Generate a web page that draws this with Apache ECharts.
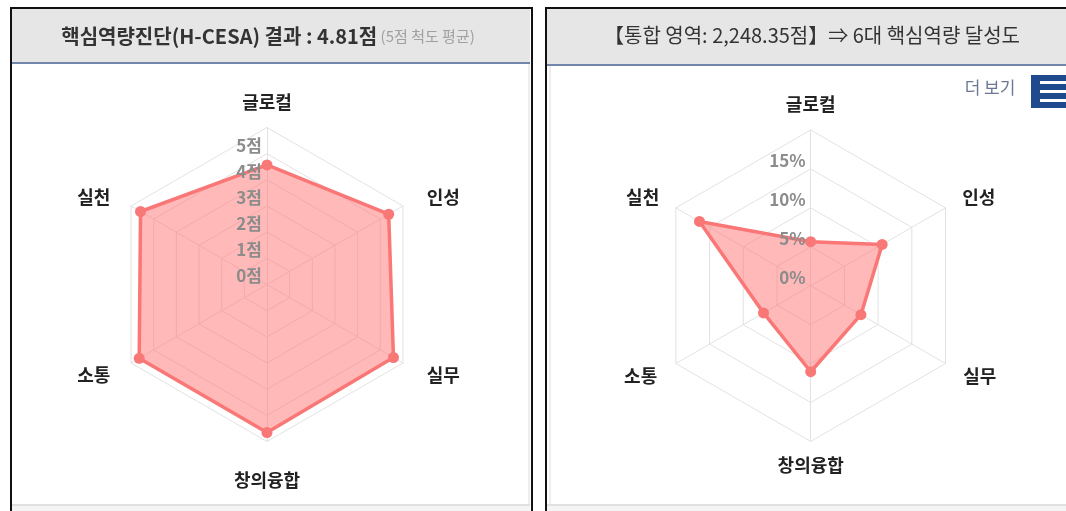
<!DOCTYPE html>
<html>
<head>
<meta charset="utf-8">
<script src="https://cdn.jsdelivr.net/npm/echarts@6/dist/echarts.min.js"></script>
<style>
  html, body { margin: 0; padding: 0; background: #ffffff; }
  #chart { width: 1066px; height: 511px; }
</style>
</head>
<body>
<div id="chart"></div>
<script>
// ---- data (indicator order follows ECharts radar: counter-clockwise from top) ----
const categories = ['글로컬', '실천', '소통', '창의융합', '실무', '인성'];
const competencyScores = [4.57, 5.58, 5.64, 5.66, 5.58, 5.37];      // left radar, 점
const achievementRates = [5.65, 16.5, 7.0, 11.05, 7.45, 10.6];      // right radar, %
const scoreTickLabels = ['0점', '1점', '2점', '3점', '4점', '5점', ''];
const rateTickLabels = ['0%', '5%', '10%', '15%', ''];
const scoreMax = 6;
const rateMax = 20;
const leftTitleMain = '핵심역량진단(H-CESA) 결과 : 4.81점';
const leftTitleSub = '(5점 척도 평균)';
const rightTitle = '【통합 영역: 2,248.35점】⇒ 6대 핵심역량 달성도';
const moreLabel = '더 보기';

const FONT = '"Noto Sans CJK KR", "Noto Sans", sans-serif';
const LINE_COLOR = '#f87878';
const FILL_COLOR = 'rgba(255,116,116,0.5)';
const GRID_COLOR = '#e2e2e2';

const chart = echarts.init(document.getElementById('chart'));

const nameStyleBase = { fontSize: 18, fontWeight: 'bold', color: '#222', fontFamily: FONT };
function nameRich(pads) {
  const r = {};
  Object.keys(pads).forEach(function (k) {
    r[k] = Object.assign({}, nameStyleBase, { padding: pads[k] });
  });
  return r;
}
const nameKeys = { '글로컬': 't', '실천': 'ul', '소통': 'll', '창의융합': 'b', '실무': 'lr', '인성': 'ur' };

function makeIndicators(max, tickLabels, step, withLabel) {
  return categories.map(function (name, i) {
    const ind = { name: name, min: 0, max: max };
    if (withLabel && i === 0) {
      ind.axisLabel = {
        show: true,
        margin: 5,
        verticalAlign: 'bottom',
        color: '#8c8c8c',
        fontSize: 17,
        fontWeight: 'bold',
        fontFamily: FONT,
        formatter: function (v) {
          const idx = Math.round(v / step);
          return tickLabels[idx] !== undefined ? tickLabels[idx] : '';
        }
      };
    }
    return ind;
  });
}

function gridRadar(center, radius, max, split, pads) {
  return {
    center: center,
    radius: radius,
    startAngle: 90,
    splitNumber: split,
    shape: 'polygon',
    indicator: makeIndicators(max, [], 1, false),
    nameGap: 10,
    axisName: {
      show: true,
      color: '#222',
      fontSize: 18,
      fontWeight: 'bold',
      fontFamily: FONT,
      formatter: function (name) { return '{' + nameKeys[name] + '|' + name + '}'; },
      rich: nameRich(pads)
    },
    axisLine: { show: true, lineStyle: { color: GRID_COLOR, width: 1 } },
    splitLine: { show: true, lineStyle: { color: GRID_COLOR, width: 1 } },
    splitArea: { show: false },
    axisTick: { show: false },
    axisLabel: { show: false }
  };
}

function labelRadar(center, radius, max, split, tickLabels, step) {
  return {
    center: center,
    radius: radius,
    startAngle: 90,
    splitNumber: split,
    shape: 'polygon',
    z: 5,
    indicator: makeIndicators(max, tickLabels, step, true),
    axisName: { show: false },
    axisLine: { show: false },
    splitLine: { show: false },
    splitArea: { show: false },
    axisTick: { show: false },
    axisLabel: { show: false }
  };
}

const leftCenter = [267, 284.5];
const rightCenter = [810.7, 285.7];

function radarSeries(idx, values, name) {
  return {
    type: 'radar',
    radarIndex: idx,
    symbol: 'circle',
    symbolSize: 11,
    lineStyle: { color: LINE_COLOR, width: 3.5 },
    itemStyle: { color: LINE_COLOR },
    areaStyle: { color: FILL_COLOR, opacity: 1 },
    data: [{ value: values, name: name }]
  };
}

const option = {
  animation: false,
  textStyle: { fontFamily: FONT },
  radar: [
    gridRadar(leftCenter, 157, scoreMax, 6, {
      t: [0, 0, 6, 0], ul: [0, 12, 8, 0], ll: [14, 12, 0, 0],
      b: [20, 0, 0, 0], lr: [14, 0, 0, 15], ur: [0, 0, 8, 15]
    }),
    gridRadar(rightCenter, 155.7, rateMax, 4, {
      t: [0, 0, 7, 0], ul: [0, 8, 12, 0], ll: [16, 10, 0, 0],
      b: [5, 0, 0, 0], lr: [16, 0, 0, 9], ur: [0, 0, 12, 8]
    }),
    labelRadar(leftCenter, 157, scoreMax, 6, scoreTickLabels, 1),
    labelRadar(rightCenter, 155.7, rateMax, 4, rateTickLabels, 5)
  ],
  series: [
    radarSeries(0, competencyScores, '핵심역량진단'),
    radarSeries(1, achievementRates, '달성도')
  ],
  graphic: [
    // left panel
    { type: 'rect', z: -10, shape: { x: 12, y: 9, width: 518, height: 54 }, style: { fill: '#e6e6e6' } },
    { type: 'rect', z: -9, shape: { x: 12, y: 62, width: 518, height: 2 }, style: { fill: '#7285aa' } },
    { type: 'rect', z: -9, shape: { x: 528.5, y: 64, width: 1, height: 441 }, style: { fill: '#dedede' } },
    { type: 'rect', z: -9, shape: { x: 12, y: 504, width: 518, height: 2 }, style: { fill: '#e0e0e0' } },
    { type: 'rect', z: -9, shape: { x: 12, y: 506, width: 518, height: 6 }, style: { fill: '#f4f4f4' } },
    { type: 'rect', z: -8, shape: { x: 11, y: 8, width: 521, height: 520 }, style: { fill: null, stroke: '#111', lineWidth: 2 } },
    // right panel
    { type: 'rect', z: -10, shape: { x: 547, y: 9, width: 530, height: 55 }, style: { fill: '#e6e6e6' } },
    { type: 'rect', z: -9, shape: { x: 547, y: 64, width: 530, height: 2 }, style: { fill: '#7285aa' } },
    { type: 'rect', z: -9, shape: { x: 549.5, y: 66, width: 1, height: 439 }, style: { fill: '#dedede' } },
    { type: 'rect', z: -9, shape: { x: 547, y: 504, width: 530, height: 2 }, style: { fill: '#e0e0e0' } },
    { type: 'rect', z: -9, shape: { x: 547, y: 506, width: 530, height: 6 }, style: { fill: '#f4f4f4' } },
    { type: 'rect', z: -8, shape: { x: 546, y: 8, width: 540, height: 520 }, style: { fill: null, stroke: '#111', lineWidth: 2 } },
    // titles
    {
      type: 'text', x: 268, y: 36, z: 10,
      style: {
        text: '{a|' + leftTitleMain + '} {b|' + leftTitleSub + '}',
        align: 'center', verticalAlign: 'middle',
        rich: {
          a: { fontSize: 20, fontWeight: 'bold', fill: '#333', fontFamily: FONT },
          b: { fontSize: 15, fill: '#a0a0a0', fontFamily: FONT }
        }
      }
    },
    {
      type: 'text', x: 812, y: 35, z: 10,
      style: { text: rightTitle, align: 'center', verticalAlign: 'middle', fontSize: 20, fill: '#333', fontFamily: FONT }
    },
    // "더 보기" button
    {
      type: 'text', x: 990, y: 88, z: 10,
      style: { text: moreLabel, align: 'center', verticalAlign: 'middle', fontSize: 17, fill: '#6c7893', fontFamily: FONT }
    },
    { type: 'rect', z: 10, shape: { x: 1031, y: 75, width: 40, height: 33 }, style: { fill: '#1f4b8e' } },
    { type: 'rect', z: 11, shape: { x: 1040, y: 81, width: 26, height: 3 }, style: { fill: '#ffffff' } },
    { type: 'rect', z: 11, shape: { x: 1040, y: 90, width: 26, height: 3 }, style: { fill: '#ffffff' } },
    { type: 'rect', z: 11, shape: { x: 1040, y: 99, width: 26, height: 3 }, style: { fill: '#ffffff' } }
  ]
};

chart.setOption(option);
</script>
</body>
</html>
